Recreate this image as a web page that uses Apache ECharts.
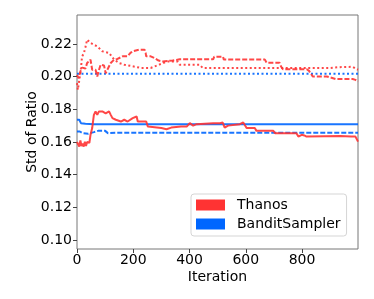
<!DOCTYPE html>
<html>
<head>
<meta charset="utf-8">
<script src="https://cdn.jsdelivr.net/npm/echarts@6/dist/echarts.min.js"></script>
<style>
html,body{margin:0;padding:0;background:#fff;}
#chart{width:374px;height:299px;}
</style>
</head>
<body>
<div id="chart"></div>
<script>
// ---- data ----
const seriesNames = ['Thanos', 'BanditSampler'];
const xTicks = [0, 200, 400, 600, 800];
const yTicks = [0.10, 0.12, 0.14, 0.16, 0.18, 0.20, 0.22];

const thanosSolidX = [0,4,8,12,16,20,24,28,32,36,40,44,48,54,60,66,72,78,84,90,96,102,108,114,120,126,138,156,168,180,198,204,212,216,246,252,300,318,335,370,390,401,413,425,484,508,518,525,537,579,591,598,603,632,638,698,704,780,787,799,808,816,880,935,975,990,999];
const thanosSolidY = [0.160,0.1593,0.1572,0.161,0.1575,0.159,0.1572,0.1602,0.1575,0.160,0.1602,0.1595,0.1644,0.1685,0.1766,0.1787,0.1766,0.1787,0.1775,0.1787,0.1793,0.1775,0.178,0.1787,0.1766,0.1746,0.1736,0.1725,0.1736,0.1725,0.1746,0.1756,0.1756,0.1725,0.1725,0.1694,0.1685,0.1678,0.1688,0.1694,0.1694,0.1715,0.170,0.1709,0.1715,0.1715,0.1719,0.1688,0.170,0.1709,0.1719,0.1719,0.1685,0.1685,0.1668,0.1668,0.1654,0.1654,0.1633,0.1644,0.1640,0.1633,0.1635,0.1636,0.1633,0.1633,0.1602];

const thanosDashedX = [0,6,12,18,24,30,36,42,48,54,60,66,72,78,84,90,96,102,108,114,120,132,144,162,180,190,198,222,240,244,246,262,275,290,305,340,365,395,400,410,484,488,519,522,668,674,720,726,732,817,825,838,888,892,920,980,990,999];
const thanosDashedY = [0.201,0.199,0.203,0.2055,0.2063,0.205,0.2083,0.2075,0.2104,0.2042,0.2032,0.2042,0.2001,0.204,0.2073,0.2063,0.2068,0.202,0.2042,0.2063,0.2083,0.2104,0.2108,0.2124,0.2124,0.2145,0.2155,0.2165,0.2165,0.2145,0.2124,0.2124,0.2114,0.2098,0.2093,0.2098,0.2106,0.2106,0.2116,0.2106,0.2106,0.2122,0.2122,0.2104,0.2104,0.2085,0.2085,0.206,0.2045,0.2045,0.2035,0.2001,0.2001,0.1991,0.1985,0.1985,0.198,0.197];

const thanosDottedX = [0,3,6,10,14,18,24,30,36,42,48,54,60,66,72,78,90,96,114,132,150,168,198,227,262,292,322,357,365,436,447,900,935,980,990,999];
const thanosDottedY = [0.196,0.192,0.193,0.200,0.205,0.2124,0.214,0.218,0.2226,0.2232,0.2206,0.2206,0.2195,0.2206,0.2185,0.2175,0.2155,0.2145,0.2145,0.2104,0.2083,0.2073,0.2063,0.2053,0.2053,0.2073,0.2093,0.2093,0.2073,0.2073,0.2053,0.2053,0.2058,0.206,0.205,0.2042];

const banditSolidX = [0,8,14,30,60,999];
const banditSolidY = [0.1736,0.1736,0.1715,0.1712,0.1709,0.1709];

const banditDashedX = [0,10,20,40,60,75,100,110,150,999];
const banditDashedY = [0.1664,0.1664,0.1654,0.1650,0.1660,0.1668,0.1668,0.1654,0.1657,0.1657];

const banditDottedX = [0,999];
const banditDottedY = [0.2018,0.2018];

// ---- helpers ----
const zip = (xs, ys) => xs.map((x, i) => [x, ys[i]]);
const RED = '#ff3333', BLUE = '#0066ff';
const FONT = 'DejaVu Sans';

function line(name, xs, ys, color, type) {
  return {
    name: name, type: 'line', data: zip(xs, ys), showSymbol: false, symbol: 'none',
    lineStyle: { color: color, width: 2, type: type, opacity: 0.9 },
    itemStyle: { color: color }, silent: true
  };
}

const chart = echarts.init(document.getElementById('chart'), null, { renderer: 'canvas' });
chart.setOption({
  animation: false,
  backgroundColor: '#fff',
  grid: { left: 77, right: 16, top: 15, bottom: 50, show: true, borderColor: '#777', borderWidth: 1, backgroundColor: 'transparent' },
  xAxis: {
    type: 'value', min: 0, max: 999,
    name: 'Iteration', nameLocation: 'middle', nameGap: 21, nameMoveOverlap: false,
    nameTextStyle: { fontFamily: FONT, fontSize: 14, color: '#000' },
    axisLine: { show: false },
    axisTick: { show: true, inside: false, length: 4, customValues: xTicks, lineStyle: { color: '#444', width: 1 } },
    axisLabel: { show: true, customValues: xTicks, margin: 4, fontFamily: FONT, fontSize: 14, color: '#000' },
    splitLine: { show: false }
  },
  yAxis: {
    type: 'value', min: 0.0945, max: 0.2377,
    name: 'Std of Ratio', nameLocation: 'middle', nameGap: 38, nameRotate: 90, nameMoveOverlap: false,
    nameTextStyle: { fontFamily: FONT, fontSize: 14, color: '#000' },
    axisLine: { show: false },
    axisTick: { show: true, inside: false, length: 4, customValues: yTicks, lineStyle: { color: '#444', width: 1 } },
    axisLabel: { show: true, customValues: yTicks, margin: 5, fontFamily: FONT, fontSize: 14, color: '#000',
      formatter: v => v.toFixed(2) },
    splitLine: { show: false }
  },
  legend: {
    orient: 'vertical', left: 191, top: 194,
    padding: [4, 6, 5, 5], itemGap: 5, itemWidth: 29, itemHeight: 11,
    backgroundColor: 'rgba(255,255,255,0.85)', borderColor: '#d5d5d5', borderWidth: 1, borderRadius: 3,
    textStyle: { fontFamily: FONT, fontSize: 14, color: '#000', padding: [0, 0, 0, 7] },
    data: [
      { name: seriesNames[0], icon: 'rect', itemStyle: { color: RED, borderWidth: 0 } },
      { name: seriesNames[1], icon: 'rect', itemStyle: { color: BLUE, borderWidth: 0 } }
    ],
    selectedMode: false
  },
  series: [
    line(seriesNames[1], banditSolidX, banditSolidY, BLUE, 'solid'),
    line(seriesNames[1], banditDashedX, banditDashedY, BLUE, [5, 2]),
    line(seriesNames[1], banditDottedX, banditDottedY, BLUE, [2, 2.5]),
    line(seriesNames[0], thanosSolidX, thanosSolidY, RED, 'solid'),
    line(seriesNames[0], thanosDashedX, thanosDashedY, RED, [5, 2]),
    line(seriesNames[0], thanosDottedX, thanosDottedY, RED, [2, 2.5])
  ]
});
</script>
</body>
</html>
